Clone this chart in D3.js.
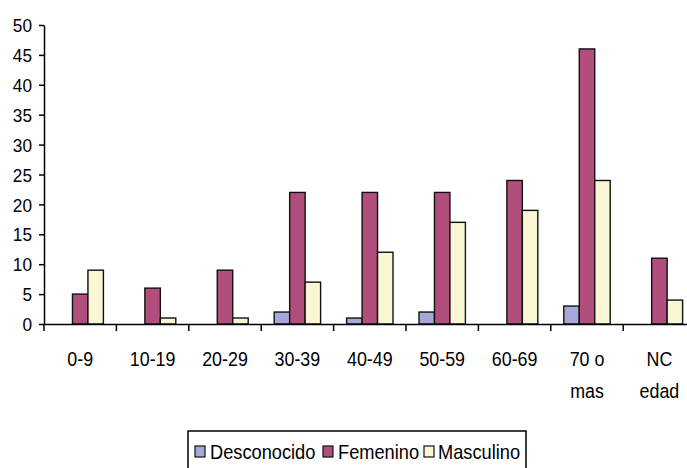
<!DOCTYPE html>
<html>
<head>
<meta charset="utf-8">
<script src="https://cdn.jsdelivr.net/npm/d3@7/dist/d3.min.js"></script>
<style>
  html, body { margin: 0; padding: 0; background: #fff; }
  svg { display: block; }
  text { font-family: "Liberation Sans", Arial, sans-serif; fill: #000; }
</style>
</head>
<body>
<svg id="chart" width="687" height="468"></svg>
<script>
const categories = [["0-9"], ["10-19"], ["20-29"], ["30-39"], ["40-49"], ["50-59"], ["60-69"], ["70 o", "mas"], ["NC", "edad"]];
const seriesNames = ["Desconocido", "Femenino", "Masculino"];
const desconocido = [0, 0, 0, 2, 1, 2, 0, 3, 0];
const femenino = [5, 6, 9, 22, 22, 22, 24, 46, 11];
const masculino = [9, 1, 1, 7, 12, 17, 19, 24, 4];
const yTicks = [0, 5, 10, 15, 20, 25, 30, 35, 40, 45, 50];
const colors = ["#a7a7d9", "#b14f7c", "#faf6d4"];

const values = [desconocido, femenino, masculino];
const svg = d3.select("#chart");

const x0 = 44, step = 72.4;
const x = d3.scaleBand().domain(d3.range(categories.length)).range([x0, x0 + step * categories.length]).padding(0);
const xs = d3.scaleBand().domain(d3.range(seriesNames.length)).range([0, x.bandwidth()]).paddingInner(0).paddingOuter(0.84);
const y = d3.scaleLinear().domain([0, 50]).range([324, 25]);

// bars
categories.forEach((c, i) => {
  values.forEach((vals, s) => {
    const v = vals[i];
    if (v <= 0) return;
    svg.append("rect")
      .attr("x", x(i) + xs(s))
      .attr("y", y(v))
      .attr("width", xs.bandwidth())
      .attr("height", y(0) - y(v))
      .attr("fill", colors[s])
      .attr("stroke", "#111")
      .attr("stroke-width", 1.4);
  });
});

// y axis
const yAxis = d3.axisLeft(y).tickValues(yTicks).tickSize(5).tickSizeOuter(0).tickPadding(7);
const gy = svg.append("g").attr("transform", `translate(${x0},0)`).call(yAxis);
gy.select(".domain").attr("stroke", "#000").attr("stroke-width", 1.5);
gy.selectAll(".tick line").attr("stroke", "#000").attr("stroke-width", 1.5);
gy.selectAll(".tick text")
  .attr("font-size", 18.5)
  .attr("font-family", "Liberation Sans, Arial, sans-serif")
  .attr("dy", "0.36em")
  .attr("transform", "translate(-12,0) scale(0.93,1)")
  .attr("x", 0);

// x axis
const xAxis = d3.axisBottom(x).tickValues([]).tickSizeOuter(0);
const gx = svg.append("g").attr("transform", `translate(0,${y(0)})`).call(xAxis);
gx.select(".domain").attr("stroke", "#000").attr("stroke-width", 1.5);
d3.range(categories.length + 1).forEach(i => {
  const tx = x0 + step * i;
  gx.append("line").attr("x1", tx).attr("x2", tx).attr("y1", 0).attr("y2", 7)
    .attr("stroke", "#000").attr("stroke-width", 1.5);
});

// category labels
categories.forEach((lines, i) => {
  const cx = x(i) + x.bandwidth() / 2;
  lines.forEach((t, k) => {
    svg.append("text")
      .attr("transform", `translate(${cx},${366 + k * 32}) scale(0.87,1)`)
      .attr("text-anchor", "middle")
      .attr("font-size", 20.5)
      .text(t);
  });
});

// legend
svg.append("rect").attr("x", 188).attr("y", 431).attr("width", 338).attr("height", 50)
  .attr("fill", "#fff").attr("stroke", "#000").attr("stroke-width", 1.5);
const legendItems = [
  { sx: 195, tx: 210 },
  { sx: 323, tx: 338 },
  { sx: 424, tx: 438 }
];
seriesNames.forEach((name, s) => {
  const it = legendItems[s];
  svg.append("rect").attr("x", it.sx).attr("y", 446).attr("width", 10).attr("height", 11)
    .attr("fill", colors[s]).attr("stroke", "#111").attr("stroke-width", 1.2);
  svg.append("text")
    .attr("transform", `translate(${it.tx},459) scale(0.89,1)`)
    .attr("font-size", 20.5)
    .text(name);
});
</script>
</body>
</html>
